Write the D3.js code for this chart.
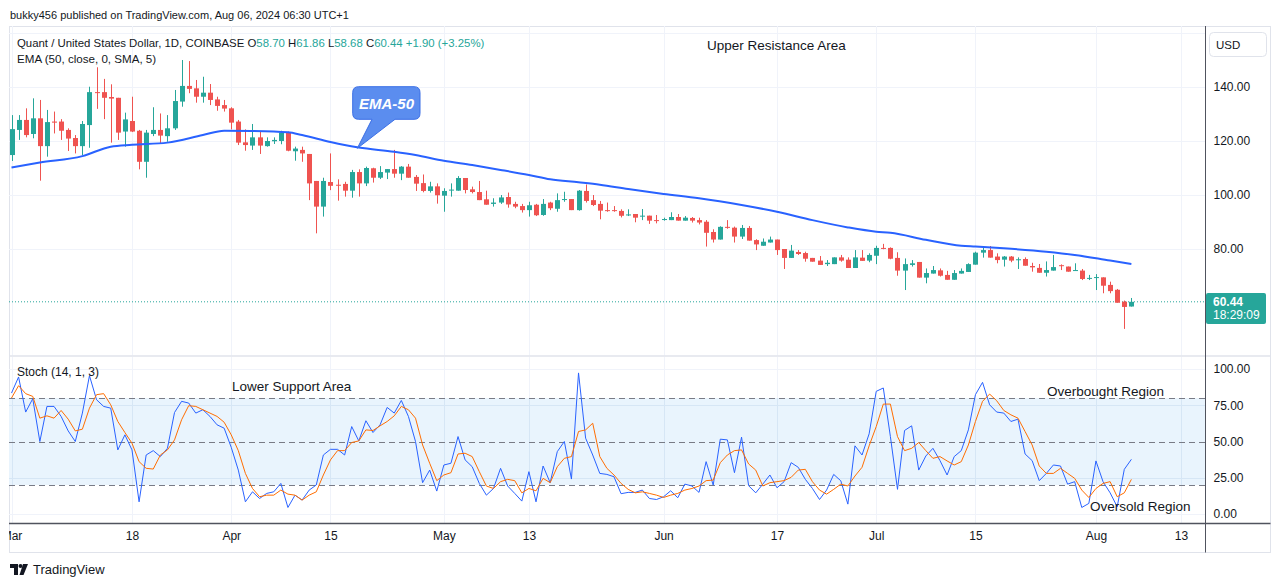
<!DOCTYPE html>
<html><head><meta charset="utf-8">
<script src="https://cdn.jsdelivr.net/npm/d3@7"></script>
<style>
body{margin:0;background:#fff;}
svg{display:block;font-family:"Liberation Sans",Arial,sans-serif;}
</style></head><body>
<svg id="c" width="1281" height="587"></svg>
<script>
// ---------------- DATA ----------------
const startDay = "2024-03-01";
const openV = [114.8,124.1,127.8,122.6,128.4,118.1,127.2,127.2,124.1,121.1,118.1,125.9,138.1,138.1,136.3,136.0,123.5,127.4,123.8,112.3,
122.6,124.1,121.8,124.7,134.6,140.4,139.5,136.4,137.9,135.4,133.3,132.1,127.2,119.5,118.3,121.35,118.1,119.9,120.0,123.1,
116.2,116.7,115.2,105.2,95.7,104.8,103.8,104.1,101.6,108.5,104.3,109.9,106.4,108.3,109.6,107.9,110.5,106.7,104.4,101.5,
103.2,99.75,101.7,101.6,106.3,102.1,101.1,98.4,96.7,97.2,99.25,96.7,95.9,94.4,96.4,92.6,97.2,94.9,98.3,98.5,
94.4,101.5,98.1,96.7,94.4,94.4,94.1,92.6,92.96,92.1,92.35,90.7,90.9,90.7,91.85,90.5,91.5,90.7,90.1,86.3,
83.5,88.2,87.9,84.6,87.8,83.3,81.2,82.4,83.5,80.0,76.7,78.9,78.5,76.7,75.7,74.4,74.4,76.9,76.05,72.96,
76.8,75.7,77.5,80.4,80.4,76.7,72.0,74.1,75.2,69.4,70.9,72.1,70.4,68.6,70.9,71.5,74.2,78.65,79.6,77.2,
76.05,77.2,75.9,76.3,73.7,73.0,71.2,72.0,74.0,73.5,72.0,72.0,69.0,69.4,69.5,66.7,64.9,60.5,58.70];
const highV = [129.6,129.6,132.1,135.8,135.2,131.5,130.9,128.1,124.7,122.2,127.4,140.1,147.3,143.0,141.0,136.0,130.5,136.4,124.1,124.1,
132.5,130.2,129.6,138.9,150.0,149.6,142.6,143.8,141.1,136.4,135.2,132.5,127.8,124.3,126.3,123.5,121.35,121.35,123.8,123.5,
117.9,117.9,115.2,105.2,106.4,115.4,105.8,104.9,109.3,109.5,110.5,110.1,110.7,109.6,116.7,110.7,111.5,107.4,107.6,104.9,
104.3,102.5,104.3,107.0,106.3,103.1,105.2,101.6,98.8,100.0,100.9,97.5,96.7,97.5,96.7,98.5,97.5,100.6,101.2,98.5,
101.85,103.9,100.0,97.8,97.2,95.9,94.7,94.7,92.96,94.8,92.35,92.6,91.6,93.6,92.96,92.2,91.85,91.6,90.7,87.3,
88.4,90.7,88.3,88.9,88.5,83.6,83.9,84.6,83.5,80.0,81.5,79.6,79.0,76.7,77.4,75.9,76.9,77.8,76.9,79.6,
79.6,78.4,81.2,81.9,80.6,78.8,76.5,75.9,75.2,72.8,73.7,72.8,71.9,72.2,72.8,74.7,79.0,81.1,81.1,78.4,
77.4,77.4,76.9,76.9,74.9,74.45,75.4,77.8,74.3,73.5,74.7,72.6,70.4,70.7,69.5,67.9,65.2,60.9,61.86];
const lowV = [112.6,120.4,121.35,121.0,105.3,114.2,122.8,120.4,116.3,115.4,114.8,117.5,131.9,128.1,119.4,120.4,117.9,123.3,109.5,106.4,
121.8,119.1,119.7,124.1,132.7,137.7,134.2,134.2,133.3,131.2,130.9,124.3,118.5,116.4,116.7,115.2,117.9,118.9,118.8,116.2,
112.7,112.3,98.1,85.8,92.0,101.8,97.9,99.4,99.0,99.4,103.3,104.6,105.9,105.9,106.4,105.5,106.4,101.5,101.0,100.9,
96.8,93.8,99.4,101.6,100.6,100.6,98.1,96.4,95.7,96.7,95.3,95.1,93.5,92.0,92.2,92.3,94.4,93.8,97.5,94.4,
94.2,97.2,95.9,91.0,93.8,93.8,91.7,92.2,89.9,90.7,89.3,89.5,90.5,90.7,90.5,90.5,89.8,89.1,80.9,82.4,
83.5,87.5,82.4,83.7,83.1,79.6,81.2,82.4,77.8,72.6,76.7,77.8,75.3,75.3,74.1,73.7,74.4,75.3,72.96,72.96,
75.6,75.1,74.4,79.9,76.2,70.1,64.8,73.5,69.4,67.3,70.9,69.8,68.6,68.6,70.9,71.5,74.2,76.8,76.8,74.7,
73.5,75.1,72.6,73.8,71.6,71.2,69.8,72.0,72.2,71.6,72.0,68.5,68.5,64.8,63.6,63.6,60.1,50.4,58.68];
const closeV = [124.4,127.8,122.2,128.4,118.1,127.0,126.8,123.8,120.9,118.1,126.3,138.1,137.8,136.0,135.7,123.1,128.0,123.5,112.3,123.1,
124.1,122.0,124.7,134.8,140.4,139.3,136.4,137.9,135.2,133.0,132.0,126.8,119.4,118.5,121.35,118.3,120.0,120.4,123.1,116.4,
117.2,115.4,104.3,95.7,105.2,103.4,103.6,101.6,108.5,104.3,110.0,106.4,108.5,109.6,107.9,110.5,106.4,104.2,101.5,103.2,
99.9,101.5,102.0,106.3,101.85,101.1,98.1,96.4,97.2,99.1,96.5,95.7,94.4,96.2,92.5,96.7,95.1,98.1,98.5,94.4,
101.6,97.8,96.3,94.2,94.2,94.2,92.3,92.8,91.6,92.35,90.5,90.5,91.1,91.85,90.5,91.6,90.5,89.8,86.0,83.5,
88.2,87.9,84.6,87.8,83.1,81.7,82.7,83.5,79.6,76.7,79.4,78.15,76.4,75.3,74.1,74.9,76.9,75.7,72.96,76.9,
75.6,77.8,80.4,80.1,76.4,72.0,74.4,74.7,69.4,71.1,72.2,70.1,68.6,71.1,71.9,74.4,78.65,79.6,76.8,75.9,
77.2,75.7,76.2,73.8,73.2,71.2,72.2,73.3,73.7,71.6,72.2,68.9,69.3,69.6,66.4,64.4,60.1,58.54,60.44];

// EMA (50) read at sample days (day index from start) and values
const emaDay = [0,4,10,14,17,22,27,30,34,39,41,45,47,49,54,57,61,65,69,73,76,80,83,87,92,97,103,108,113,118,122,124,129,134,136,140,146,150,155,158];
const emaVal = [110.2,112.0,114.4,117.9,118.6,119.4,122.2,123.8,123.7,123.2,122.2,119.6,118.5,117.6,116.0,114.8,112.7,111.1,109.3,107.4,105.8,104.7,103.8,102.2,100.4,98.8,96.3,93.8,90.7,88.0,86.4,86.0,83.4,81.2,80.9,80.25,79.0,77.8,75.7,74.45];

const stochK = [83.4,94.5,70.3,79.5,50.0,74.2,74.2,67.3,57.3,50.0,69.6,95.4,78.8,74.2,73.0,44.2,54.6,44.2,8.4,40.7,
43.7,39.6,45.3,70.0,77.7,76.5,69.6,71.9,67.3,61.5,59.2,46.0,30.3,8.4,15.3,10.7,14.2,15.3,21.1,4.5,
13.0,9.6,16.5,20.0,40.7,44.6,44.6,40.7,60.3,50.4,64.3,56.2,61.5,73.5,69.6,78.3,67.3,50.0,21.6,30.3,
15.8,33.8,35.0,53.4,37.3,32.6,21.1,13.0,17.6,31.5,19.3,14.2,8.9,29.2,8.4,33.1,21.6,43.0,50.0,24.1,
97.3,52.3,40.7,28.0,27.3,25.7,14.0,14.9,14.9,16.5,10.7,10.0,11.9,16.0,11.2,20.6,19.3,14.9,36.1,19.9,
51.6,51.1,28.5,53.0,19.5,14.6,20.6,26.9,18.1,22.3,35.4,32.2,23.9,17.6,10.0,16.5,27.3,22.9,6.8,47.0,
40.7,55.3,84.6,86.9,53.4,17.0,57.6,60.8,30.3,40.0,45.3,36.8,26.9,39.6,43.7,58.0,82.3,90.8,75.3,70.3,
69.6,63.8,65.4,41.4,36.8,23.0,28.0,33.8,33.1,20.6,22.3,4.5,7.3,36.6,22.3,14.6,5.0,30.8,37.7];
const stochD = [80.0,88.5,83.0,81.1,66.1,67.7,66.1,71.4,65.4,57.3,58.5,73.0,82.3,83.0,75.3,63.8,56.2,48.8,36.1,31.5,
31.0,40.7,44.2,51.1,65.0,74.7,74.2,71.9,69.6,67.3,63.3,54.6,43.7,28.0,17.6,11.9,13.0,13.0,16.5,13.7,
13.0,9.6,13.0,15.3,26.9,37.3,43.7,43.7,49.3,50.4,58.0,57.6,60.8,63.8,67.7,74.2,71.9,66.1,47.6,35.0,
23.0,26.9,28.5,41.4,41.9,39.6,29.2,19.3,17.6,22.3,23.9,23.0,14.6,17.6,16.0,24.6,21.6,32.6,38.4,39.6,
56.9,58.0,62.6,39.6,31.5,26.9,21.1,17.0,14.6,15.3,14.2,13.0,11.4,13.0,14.2,16.5,17.6,19.3,23.0,23.4,
35.4,40.7,43.7,44.2,34.5,30.3,19.3,21.6,22.3,23.0,25.3,30.3,30.8,22.3,16.5,13.7,17.0,20.6,19.3,26.2,
32.2,47.0,60.3,75.8,75.8,53.4,43.7,45.3,49.3,43.7,38.4,39.6,36.6,33.8,36.1,47.6,63.8,77.7,82.7,78.1,
71.4,68.4,66.1,56.9,47.6,33.1,28.0,28.0,31.5,28.0,24.6,16.5,11.4,17.6,21.1,22.3,11.9,14.6,23.9];

const priceTicks = [80,100,120,140,160];
const stochTicks = [0,25,50,75,100];
const timeTickDates = ["2024-03-01","2024-03-18","2024-04-01","2024-04-15","2024-05-01","2024-05-13","2024-06-01","2024-06-17","2024-07-01","2024-07-15","2024-08-01","2024-08-13"];
const timeTickLabels = ["Mar","18","Apr","15","May","13","Jun","17","Jul","15","Aug","13"];
const lastPrice = 60.44;

// ---------------- LAYOUT ----------------
const svg = d3.select("#c");
const L = 9, R = 1205.5, TOP = 26, PB = 355.5, ST = 357, SB = 523.5, BOX_R = 1270.5, BOX_B = 552.5;
const UP = "#26a69a", DN = "#ef5350", GRID = "#f0f3fa", TXT = "#131722";

const parse = d3.utcParse("%Y-%m-%d");
const t0 = parse(startDay);
const dates = openV.map((_, i) => d3.utcDay.offset(t0, i));
const x = d3.scaleUtc().domain([parse("2024-03-01"), parse("2024-08-13")]).range([11.5, 1181]);
const yP = d3.scaleLinear().domain([80, 140]).range([249, 87]);
const yS = d3.scaleLinear().domain([0, 100]).range([514, 369]);

const defs = svg.append("defs");
defs.append("clipPath").attr("id", "cp").append("rect").attr("x", L).attr("y", TOP).attr("width", R - L).attr("height", PB - TOP);
defs.append("clipPath").attr("id", "cs").append("rect").attr("x", L).attr("y", ST).attr("width", R - L).attr("height", SB - ST);
defs.append("clipPath").attr("id", "ct").append("rect").attr("x", L).attr("y", SB).attr("width", R - L).attr("height", BOX_B - SB);

// header
svg.append("text").attr("x", 10).attr("y", 19).attr("font-size", 11).attr("fill", TXT)
  .text("bukky456 published on TradingView.com, Aug 06, 2024 06:30 UTC+1");

// chart box
svg.append("rect").attr("x", L + 0.5).attr("y", TOP + 0.5).attr("width", BOX_R - L - 0.5).attr("height", BOX_B - TOP - 0.5)
  .attr("fill", "none").attr("stroke", "#e0e3eb");

// grid - vertical
const gridG = svg.append("g");
timeTickDates.forEach(d => {
  const xx = Math.round(x(parse(d))) + 0.5;
  if (xx > L + 2 && xx < R) {
    gridG.append("line").attr("x1", xx).attr("x2", xx).attr("y1", TOP).attr("y2", PB).attr("stroke", GRID);
    gridG.append("line").attr("x1", xx).attr("x2", xx).attr("y1", ST).attr("y2", SB).attr("stroke", GRID);
  }
});
priceTicks.forEach(v => {
  const yy = Math.round(yP(v)) + 0.5;
  gridG.append("line").attr("x1", L).attr("x2", R).attr("y1", yy).attr("y2", yy).attr("stroke", GRID);
});

// stoch band + grid
svg.append("rect").attr("x", L).attr("width", R - L).attr("y", yS(80)).attr("height", yS(20) - yS(80)).attr("fill", "#e9f4fd");
stochTicks.forEach(v => {
  if (v === 50) return;
  const yy = Math.round(yS(v)) + 0.5;
  svg.append("line").attr("x1", L).attr("x2", R).attr("y1", yy).attr("y2", yy).attr("stroke", v === 25 || v === 75 ? "#d6e6f5" : GRID);
});
timeTickDates.forEach(d => {
  const xx = Math.round(x(parse(d))) + 0.5;
  if (xx > L + 2 && xx < R) svg.append("line").attr("x1", xx).attr("x2", xx).attr("y1", yS(80)).attr("y2", yS(20)).attr("stroke", "#d6e6f5");
});
[80, 50, 20].forEach(v => {
  const yy = Math.round(yS(v)) + 0.5;
  svg.append("line").attr("x1", L).attr("x2", R).attr("y1", yy).attr("y2", yy).attr("stroke", "#787b86").attr("stroke-dasharray", "6,4");
});

// pane separator
svg.append("line").attr("x1", L).attr("x2", BOX_R).attr("y1", 356).attr("y2", 356).attr("stroke", "#e0e3eb").attr("stroke-width", 1.5);

// ---------------- price pane ----------------
const pg = svg.append("g").attr("clip-path", "url(#cp)");
pg.append("line").attr("x1", L).attr("x2", R).attr("y1", yP(lastPrice)).attr("y2", yP(lastPrice))
  .attr("stroke", UP).attr("stroke-dasharray", "1,2");

const candles = pg.selectAll("g.c").data(dates.map((d, i) => ({d, o: openV[i], h: highV[i], l: lowV[i], c: closeV[i]})))
  .enter().append("g");
candles.append("line")
  .attr("x1", d => Math.round(x(d.d)) + 0.5).attr("x2", d => Math.round(x(d.d)) + 0.5)
  .attr("y1", d => yP(d.h)).attr("y2", d => yP(d.l))
  .attr("stroke", d => d.c >= d.o ? UP : DN);
candles.append("rect")
  .attr("x", d => Math.round(x(d.d)) - 2).attr("width", 5)
  .attr("y", d => yP(Math.max(d.o, d.c)))
  .attr("height", d => Math.max(1, Math.abs(yP(d.o) - yP(d.c))))
  .attr("fill", d => d.c >= d.o ? UP : DN);

const emaLine = d3.line().x(p => x(d3.utcDay.offset(t0, p[0]))).y(p => yP(p[1])).curve(d3.curveMonotoneX);
pg.append("path").datum(emaDay.map((d, i) => [d, emaVal[i]])).attr("d", emaLine)
  .attr("fill", "none").attr("stroke", "#2962ff").attr("stroke-width", 2);

// ---------------- stoch pane ----------------
const sg = svg.append("g").attr("clip-path", "url(#cs)");
const sLine = d3.line().x((v, i) => x(dates[i])).y(v => yS(v));
sg.append("path").datum(stochK).attr("d", sLine).attr("fill", "none").attr("stroke", "#2962ff").attr("stroke-width", 1);
sg.append("path").datum(stochD).attr("d", sLine).attr("fill", "none").attr("stroke", "#ff6d00").attr("stroke-width", 1);

// ---------------- axes ----------------
svg.append("line").attr("x1", R).attr("x2", R).attr("y1", TOP).attr("y2", BOX_B).attr("stroke", "#50535e");
svg.append("line").attr("x1", L).attr("x2", BOX_R).attr("y1", SB).attr("y2", SB).attr("stroke", "#50535e").attr("stroke-width", 1.5);

const pAxis = svg.append("g").attr("transform", `translate(${R},0)`)
  .call(d3.axisRight(yP).tickValues(priceTicks.filter(v => v <= 140)).tickFormat(d3.format(".2f")).tickSize(0).tickPadding(8));
const sAxis = svg.append("g").attr("transform", `translate(${R},0)`)
  .call(d3.axisRight(yS).tickValues(stochTicks).tickFormat(d3.format(".2f")).tickSize(0).tickPadding(8));
[pAxis, sAxis].forEach(a => {
  a.select(".domain").remove();
  a.selectAll("text").attr("font-size", 12).attr("fill", TXT).attr("font-family", "Liberation Sans, Arial, sans-serif");
});

const tAxis = svg.append("g").attr("clip-path", "url(#ct)").append("g").attr("transform", `translate(0,${SB + 5})`)
  .call(d3.axisBottom(x).tickValues(timeTickDates.map(parse)).tickFormat((d, i) => timeTickLabels[i]).tickSize(0));
tAxis.select(".domain").remove();
tAxis.selectAll("text").attr("font-size", 12).attr("fill", TXT).attr("font-family", "Liberation Sans, Arial, sans-serif");

// USD box
svg.append("rect").attr("x", 1209.5).attr("y", 32.5).attr("width", 57).attr("height", 24).attr("rx", 4)
  .attr("fill", "#fff").attr("stroke", "#e0e3eb");
svg.append("text").attr("x", 1216).attr("y", 48.5).attr("font-size", 11.5).attr("fill", TXT).text("USD");

// last price label
svg.append("rect").attr("x", R + 0.5).attr("y", 293).attr("width", 60).attr("height", 31).attr("rx", 2).attr("fill", UP);
svg.append("text").attr("x", 1213).attr("y", 306).attr("font-size", 12).attr("font-weight", "bold").attr("fill", "#fff").text(lastPrice.toFixed(2));
svg.append("text").attr("x", 1213).attr("y", 319).attr("font-size", 12).attr("fill", "#fff").text("18:29:09");

// ---------------- legends ----------------
const lg = svg.append("text").attr("x", 17).attr("y", 46.5).attr("font-size", 11.4).attr("fill", TXT);
lg.append("tspan").text("Quant / United States Dollar, 1D, COINBASE O");
lg.append("tspan").attr("fill", UP).text("58.70");
lg.append("tspan").text(" H");
lg.append("tspan").attr("fill", UP).text("61.86");
lg.append("tspan").text(" L");
lg.append("tspan").attr("fill", UP).text("58.68");
lg.append("tspan").text(" C");
lg.append("tspan").attr("fill", UP).text("60.44 +1.90 (+3.25%)");
svg.append("text").attr("x", 17).attr("y", 62.5).attr("font-size", 11.6).attr("fill", TXT).text("EMA (50, close, 0, SMA, 5)");
svg.append("text").attr("x", 17).attr("y", 376).attr("font-size", 12).attr("fill", TXT).text("Stoch (14, 1, 3)");

// annotations
const ann = (t, xx, yy) => svg.append("text").attr("x", xx).attr("y", yy).attr("font-size", 13.5).attr("fill", TXT).text(t);
ann("Upper Resistance Area", 707, 50);
ann("Lower Support Area", 232, 391);
ann("Overbought Region", 1047, 396);
ann("Oversold Region", 1090, 511);

// EMA-50 callout
svg.append("path")
  .attr("d", "M358.7,86.7 H414 Q420,86.7 420,92.7 V113.3 Q420,119.3 414,119.3 H395 L357.3,148.3 L372,119.3 H358.7 Q352.7,119.3 352.7,113.3 V92.7 Q352.7,86.7 358.7,86.7 Z")
  .attr("fill", "#5b8def").attr("stroke", "#3b6fe6").attr("stroke-width", 1);
svg.append("text").attr("x", 386.5).attr("y", 108.5).attr("text-anchor", "middle").attr("font-size", 15)
  .attr("font-style", "italic").attr("font-weight", "bold").attr("fill", "#fff").text("EMA-50");

// TradingView logo
const lgG = svg.append("g").attr("fill", TXT);
lgG.append("path").attr("d", "M10,564 H18 V575 H14 V568 H10 Z");
lgG.append("circle").attr("cx", 20.5).attr("cy", 566).attr("r", 2);
lgG.append("path").attr("d", "M23,564 H28 L23.5,575 H19.5 Z");
svg.append("text").attr("x", 33).attr("y", 574).attr("font-size", 13).attr("fill", TXT).text("TradingView");
</script>
</body></html>
